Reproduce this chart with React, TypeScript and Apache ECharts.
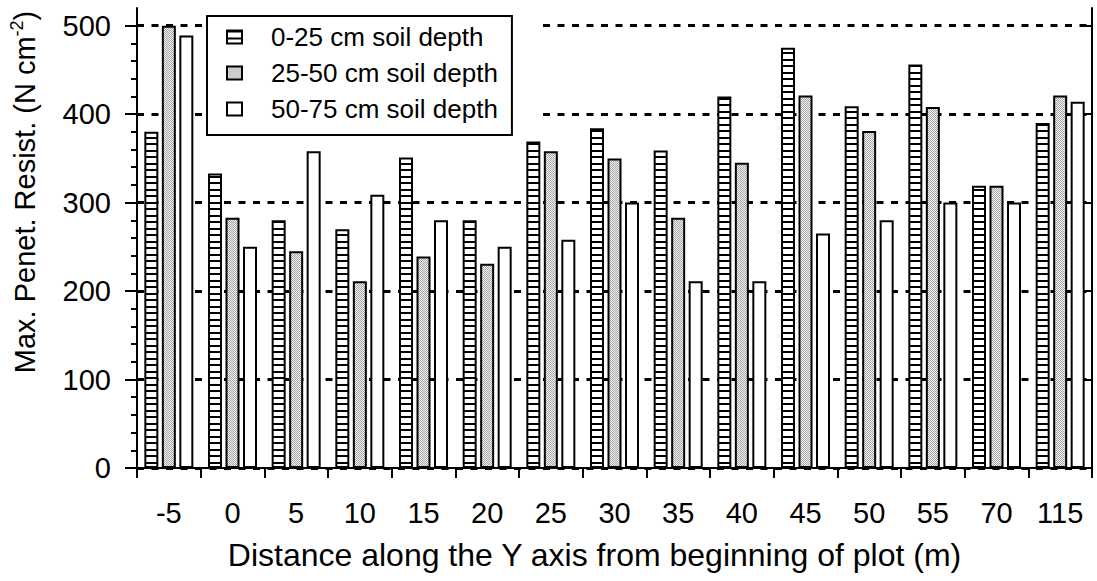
import React, { useEffect, useRef } from 'react';
import * as echarts from 'echarts';

const categories = ['-5', '0', '5', '10', '15', '20', '25', '30', '35', '40', '45', '50', '55', '70', '115'];
const depth0to25 = [380, 333, 280, 270, 351, 280, 369, 384, 359, 420, 475, 409, 456, 319, 390];
const depth25to50 = [500, 283, 245, 211, 239, 231, 358, 350, 283, 345, 421, 381, 408, 319, 421];
const depth50to75 = [489, 250, 358, 309, 280, 250, 258, 300, 211, 211, 265, 280, 300, 300, 414];
const seriesNames = ['0-25 cm soil depth', '25-50 cm soil depth', '50-75 cm soil depth'];
const yTicks = [0, 100, 200, 300, 400, 500];
const yMin = 0;
const yMax = 520;
const yInterval = 100;

const FONT = 'Liberation Sans, Arial, Helvetica, sans-serif';

function makeStripeCanvas(): HTMLCanvasElement {
  const c = document.createElement('canvas');
  c.width = 4;
  c.height = 13;
  const ctx = c.getContext('2d')!;
  ctx.fillStyle = '#ffffff';
  ctx.fillRect(0, 0, 4, 13);
  ctx.fillStyle = '#000000';
  ctx.fillRect(0, 0, 4, 2);
  ctx.fillRect(0, 7, 4, 2);
  return c;
}

function makeStippleCanvas(): HTMLCanvasElement {
  const c = document.createElement('canvas');
  c.width = 4;
  c.height = 4;
  const ctx = c.getContext('2d')!;
  for (let x = 0; x < 4; x++) {
    for (let y = 0; y < 4; y++) {
      ctx.fillStyle = (x + y) % 2 === 0 ? '#a6a6a6' : '#f2f2f2';
      ctx.fillRect(x, y, 1, 1);
    }
  }
  return c;
}

export default function App() {
  const ref = useRef<HTMLDivElement>(null);

  useEffect(() => {
    if (!ref.current) return;
    const chart = echarts.init(ref.current, null, { renderer: 'svg' });
    const stripe = { image: makeStripeCanvas(), repeat: 'repeat' } as any;
    const stipple = { image: makeStippleCanvas(), repeat: 'repeat' } as any;

    const barCommon = {
      type: 'bar' as const,
      barWidth: 14,
      barGap: '25%',
      xAxisIndex: 0,
      yAxisIndex: 0,
      z: 3,
    };

    const option: any = {
      animation: false,
      backgroundColor: '#ffffff',
      textStyle: { fontFamily: FONT, color: '#000' },
      grid: {
        left: 137,
        right: 5,
        top: 8,
        bottom: 113,
        show: false,
        containLabel: false,
        outerBoundsMode: 'none',
      },
      legend: {
        orient: 'vertical',
        left: 207,
        top: 16,
        padding: [8, 14, 13, 19],
        itemGap: 10,
        itemWidth: 15,
        itemHeight: 13,
        icon: 'rect',
        backgroundColor: '#ffffff',
        borderColor: '#000',
        borderWidth: 2,
        borderRadius: 0,
        textStyle: { fontSize: 26, fontFamily: FONT, color: '#000', padding: [0, 0, 0, 24] },
        data: seriesNames,
      },
      graphic: [
        {
          type: 'rect',
          z: 1,
          shape: { x: 207, y: 14, width: 334, height: 124 },
          style: { fill: '#ffffff' },
        },
      ],
      xAxis: [
        {
          type: 'category',
          data: categories,
          boundaryGap: true,
          position: 'bottom',
          axisLine: { lineStyle: { color: '#000', width: 2 } },
          axisTick: { show: true, inside: false, length: 10, lineStyle: { color: '#000', width: 2 } },
          axisLabel: { fontSize: 29, fontFamily: FONT, color: '#000', margin: 30 },
          splitLine: { show: false },
          name: 'Distance along the Y axis from beginning of plot (m)',
          nameLocation: 'middle',
          nameGap: 71,
          nameTextStyle: { fontSize: 32, fontFamily: FONT, color: '#000', padding: [0, 40, 0, 0] },
        },
        {
          type: 'category',
          data: categories,
          position: 'top',
          z: 5,
          axisLine: { show: true, lineStyle: { color: '#000', width: 2 } },
          axisTick: { show: false },
          axisLabel: { show: false },
          splitLine: { show: false },
        },
      ],
      yAxis: [
        {
          type: 'value',
          min: yMin,
          max: yMax,
          interval: yInterval,
          position: 'left',
          axisLine: { show: true, lineStyle: { color: '#000', width: 2 } },
          axisTick: {
            show: true,
            inside: false,
            length: 12,
            customValues: yTicks,
            lineStyle: { color: '#000', width: 2 },
          },
          minorTick: { show: true, splitNumber: 5, length: 6, lineStyle: { color: '#000', width: 2 } },
          axisLabel: {
            fontSize: 29,
            fontFamily: FONT,
            color: '#000',
            margin: 26,
            customValues: yTicks,
          },
          splitLine: { show: true, lineStyle: { color: '#000', width: 3, type: [7, 7.5] } },
          name: '{t|Max. Penet. Resist. (N cm}{s|-2}{t|)}',
          nameLocation: 'middle',
          nameGap: 95,
          nameTextStyle: {
            fontFamily: FONT,
            color: '#000',
            padding: [0, 0, 0, 92],
            rich: {
              t: { fontSize: 29, fontFamily: FONT, color: '#000', lineHeight: 34 },
              s: { fontSize: 18, fontFamily: FONT, color: '#000', verticalAlign: 'top', lineHeight: 34 },
            },
          },
        },
        {
          type: 'value',
          min: yMin,
          max: yMax,
          interval: yInterval,
          position: 'right',
          z: 5,
          axisLine: { show: true, lineStyle: { color: '#000', width: 2 } },
          axisTick: {
            show: true,
            inside: true,
            length: 7,
            customValues: yTicks,
            lineStyle: { color: '#000', width: 2 },
          },
          axisLabel: { show: false },
          splitLine: { show: false },
        },
      ],
      series: [
        {
          ...barCommon,
          name: seriesNames[0],
          data: depth0to25,
          itemStyle: { color: stripe, borderColor: '#000', borderWidth: 2 },
        },
        {
          ...barCommon,
          name: seriesNames[1],
          data: depth25to50,
          itemStyle: { color: stipple, borderColor: '#000', borderWidth: 2 },
        },
        {
          ...barCommon,
          name: seriesNames[2],
          data: depth50to75,
          itemStyle: { color: '#ffffff', borderColor: '#000', borderWidth: 2 },
        },
      ],
    };

    chart.setOption(option);
    return () => {
      chart.dispose();
    };
  }, []);

  return (
    <div
      ref={ref}
      style={{ position: 'fixed', left: 0, top: 0, width: 1097, height: 581, background: '#fff' }}
    />
  );
}
